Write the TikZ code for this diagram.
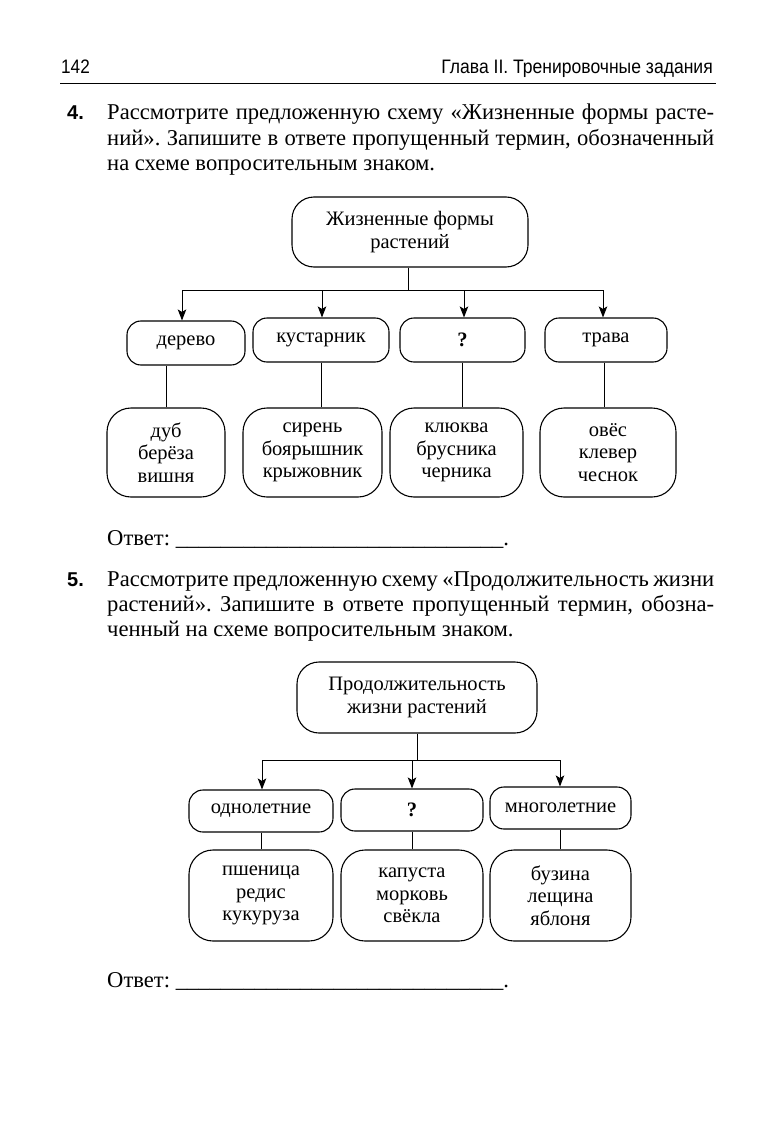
\documentclass[tikz,border=0pt]{standalone}
\usepackage{fontspec}
\setmainfont{Liberation Serif}
\newfontfamily\hdrfont{Liberation Sans}
\usetikzlibrary{arrows.meta}
\frenchspacing
\newcommand{\bodyfnt}{\fontsize{22.6}{26}\selectfont}
\newcommand{\boxfnt}{\fontsize{20.5}{22.5}\selectfont}
\begin{document}
\begin{tikzpicture}[x=1pt,y=-1pt,
  box/.style={draw, line width=1.1pt, rounded corners=14pt, align=center, inner sep=0pt, font=\boxfnt},
  bigbox/.style={box, rounded corners=24pt},
  arr/.style={-{Stealth[length=11pt,width=8.5pt,inset=2.5pt]}, line width=1pt},
  ln/.style={line width=1pt},
  txt/.style={anchor=base west, inner sep=0pt, font=\bodyfnt},
  num/.style={anchor=base west, inner sep=0pt, font=\hdrfont\bfseries\fontsize{20}{24}\selectfont}
]
\fill[white] (0,0) rectangle (774,1134);
\useasboundingbox (0,0) rectangle (774,1134);

% header
\node[anchor=base west, inner sep=0pt, font=\hdrfont\fontsize{19.5}{22}\selectfont] (pg) at (61,74) {\scalebox{0.88}[1]{142}};
\node[anchor=base east, inner sep=0pt, font=\hdrfont\fontsize{19.5}{22}\selectfont] (hd) at (713,74) {\scalebox{0.9}[1]{Глава II. Тренировочные задания}};
\coordinate (rl) at (60,83);
\coordinate (rr) at (716,83);
\draw[line width=0.9pt] (rl) -- (rr);

% problem 4
\node[num] (n4) at (67,120) {4.};
\node[txt] (p4a) at (107,120) {\makebox[607pt][s]{Рассмотрите предложенную схему «Жизненные формы расте-}};
\node[txt] (p4b) at (107,146) {\makebox[607pt][s]{ний». Запишите в ответе пропущенный термин, обозначенный}};
\node[txt] (p4c) at (107,171) {на схеме вопросительным знаком.};

% diagram 1
\node[box, rounded corners=22pt, minimum width=236pt, minimum height=70pt] (r1) at (410,232) {Жизненные формы\\растений};
\node[box, minimum width=118pt, minimum height=44pt] (d1) at (186,343) {дерево};
\node[box, minimum width=136pt, minimum height=44pt] (d2) at (321,340) {кустарник};
\node[box, minimum width=125pt, minimum height=44pt] (d3) at (462.5,340) {\textbf{?}};
\node[box, minimum width=122pt, minimum height=44pt] (d4) at (606,340) {трава};
\node[bigbox, minimum width=118pt, minimum height=89pt] (e1) at (166,452.5) {дуб\\берёза\\вишня};
\node[bigbox, minimum width=139pt, minimum height=89pt] (e2) at (312.5,452.5) {сирень\\боярышник\\крыжовник};
\node[bigbox, minimum width=133pt, minimum height=89pt] (e3) at (456.5,452.5) {клюква\\брусника\\черника};
\node[bigbox, minimum width=136pt, minimum height=89pt] (e4) at (608,452.5) {овёс\\клевер\\чеснок};

\coordinate (b1) at (408,290);
\coordinate (b1a) at (182,290);
\coordinate (b1b) at (322,290);
\coordinate (b1c) at (464,290);
\coordinate (b1d) at (603,290);
\draw[ln] (r1.south -| b1) -- (b1);
\draw[ln] (b1a) -- (b1d);
\draw[arr] (b1a) -- (b1a |- d1.north);
\draw[arr] (b1b) -- (b1b |- d2.north);
\draw[arr] (b1c) -- (b1c |- d3.north);
\draw[arr] (b1d) -- (b1d |- d4.north);
\draw[ln] (e1.north) -- (e1.north |- d1.south);
\draw[ln] (d2.south) -- (d2.south |- e2.north);
\draw[ln] (d3.south) -- (d3.south |- e3.north);
\draw[ln] ([xshift=-2pt]d4.south) -- ([xshift=-2pt]d4.south |- e4.north);

\node[txt] (ans4) at (107,545) {Ответ: \_\_\_\_\_\_\_\_\_\_\_\_\_\_\_\_\_\_\_\_\_\_\_\_\_\_\_\_\_.};

% problem 5
\node[num] (n5) at (67,586) {5.};
\node[txt] (p5a) at (107,586) {\makebox[607pt][s]{Рассмотрите предложенную схему «Продолжительность жизни}};
\node[txt] (p5b) at (107,611) {\makebox[607pt][s]{растений». Запишите в ответе пропущенный термин, обозна-}};
\node[txt] (p5c) at (107,636) {ченный на схеме вопросительным знаком.};

% diagram 2
\node[box, rounded corners=22pt, minimum width=240pt, minimum height=71pt] (r2) at (417,697.5) {Продолжительность\\жизни растений};
\node[box, minimum width=144pt, minimum height=42pt] (f1) at (261,811) {однолетние};
\node[box, minimum width=142pt, minimum height=42pt] (f2) at (412,810) {\textbf{?}};
\node[box, minimum width=141pt, minimum height=42pt] (f3) at (560.5,808) {многолетние};
\node[bigbox, minimum width=144pt, minimum height=91pt] (g1) at (261,895.5) {пшеница\\редис\\кукуруза};
\node[bigbox, minimum width=142pt, minimum height=91pt] (g2) at (412,895.5) {капуста\\морковь\\свёкла};
\node[bigbox, minimum width=141pt, minimum height=91pt] (g3) at (560.5,895.5) {бузина\\лещина\\яблоня};

\coordinate (b2) at (417,760);
\coordinate (b2a) at (262,760);
\coordinate (b2b) at (412,760);
\coordinate (b2c) at (560,760);
\draw[ln] (r2.south) -- (b2);
\draw[ln] (b2a) -- (b2c);
\draw[arr] (b2a) -- (b2a |- f1.north);
\draw[arr] (b2b) -- (b2b |- f2.north);
\draw[arr] (b2c) -- (b2c |- f3.north);
\draw[ln] (f1.south) -- (f1.south |- g1.north);
\draw[ln] (f2.south) -- (f2.south |- g2.north);
\draw[ln] (f3.south) -- (f3.south |- g3.north);

\node[txt] (ans5) at (107,987) {Ответ: \_\_\_\_\_\_\_\_\_\_\_\_\_\_\_\_\_\_\_\_\_\_\_\_\_\_\_\_\_.};
\end{tikzpicture}
\end{document}
